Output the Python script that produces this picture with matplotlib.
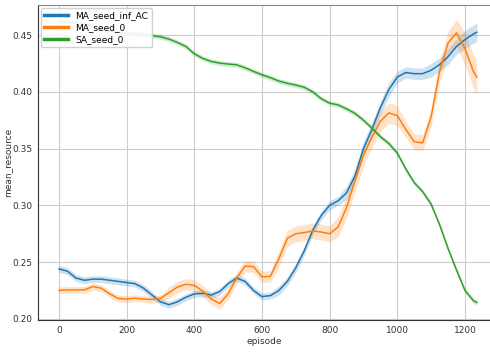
import numpy as np
import matplotlib
matplotlib.use("Agg")
import matplotlib.pyplot as plt

# episodes sampled every 25 + last point
episodes = np.r_[np.arange(0, 1226, 25), 1235]

ma_inf_ac = [0.244, 0.242, 0.236, 0.234, 0.235, 0.235, 0.234, 0.233, 0.232, 0.231,
             0.227, 0.221, 0.215, 0.2125, 0.215, 0.219, 0.222, 0.2225, 0.221, 0.224,
             0.231, 0.236, 0.233, 0.225, 0.2196, 0.2205, 0.225, 0.233, 0.245, 0.260,
             0.278, 0.291, 0.300, 0.304, 0.311, 0.326, 0.350, 0.367, 0.386, 0.402,
             0.413, 0.417, 0.416, 0.416, 0.419, 0.424, 0.431, 0.440, 0.446, 0.451,
             0.4525]
ma_seed0 = [0.225, 0.2255, 0.2255, 0.2255, 0.2285, 0.227, 0.222, 0.218, 0.2175, 0.2182,
            0.2175, 0.217, 0.218, 0.223, 0.228, 0.2305, 0.2295, 0.2245, 0.2175, 0.2135,
            0.222, 0.236, 0.2465, 0.246, 0.237, 0.2375, 0.253, 0.271, 0.275, 0.276,
            0.2775, 0.2765, 0.275, 0.281, 0.298, 0.322, 0.344, 0.360, 0.374, 0.3815,
            0.379, 0.367, 0.356, 0.355, 0.378, 0.418, 0.443, 0.452, 0.438, 0.418,
            0.413]
sa_seed0 = [0.462, 0.4615, 0.461, 0.460, 0.458, 0.455, 0.453, 0.452, 0.4515, 0.451,
            0.4503, 0.4495, 0.4485, 0.4465, 0.4435, 0.440, 0.4335, 0.4295, 0.4268, 0.4253,
            0.4245, 0.4238, 0.4212, 0.418, 0.415, 0.4125, 0.4095, 0.4075, 0.406, 0.404,
            0.400, 0.394, 0.390, 0.3885, 0.385, 0.381, 0.375, 0.368, 0.3605, 0.3545,
            0.346, 0.332, 0.320, 0.312, 0.301, 0.283, 0.262, 0.243, 0.225, 0.216,
            0.2145]

# half width of the shaded band
ma_inf_ac_sd = [0.003] * 26 + [0.004] * 8 + [0.006] * 6 + [0.005] * 4 + [0.006, 0.006, 0.007, 0.007, 0.008, 0.008, 0.008]
ma_seed0_sd = [0.003] * 13 + [0.005] * 13 + [0.007] * 7 + [0.009] * 8 + [0.007] * 3 + [0.008, 0.009, 0.010, 0.012, 0.014, 0.015, 0.015]
sa_seed0_sd = [0.0022] * 51

series = [("MA_seed_inf_AC", ma_inf_ac, ma_inf_ac_sd, "#1f77b4"),
          ("MA_seed_0", ma_seed0, ma_seed0_sd, "#ff7f0e"),
          ("SA_seed_0", sa_seed0, sa_seed0_sd, "#2ca02c")]

fig = plt.figure(figsize=(4.9, 3.58), dpi=100)
ax = fig.add_axes([38 / 490, 38 / 358, 1 - 38 / 490, (320 - 5) / 358])

for name, y, sd, c in series:
    y = np.array(y)
    sd = np.array(sd)
    ax.fill_between(episodes, y - sd, y + sd, color=c, alpha=0.22, lw=0)
    ax.plot(episodes, y, color=c, lw=1.1, label=name)

ax.set_xlim(-62, 1274)
ax.set_ylim(0.199, 0.4765)
ax.set_xticks([0, 200, 400, 600, 800, 1000, 1200])
ax.set_yticks([0.20, 0.25, 0.30, 0.35, 0.40, 0.45])
ax.grid(True, color="#cccccc", lw=0.8)
ax.set_axisbelow(True)
ax.tick_params(length=0, labelsize=6.5, labelcolor="#333333", pad=4)
ax.spines["right"].set_visible(False)
ax.spines["top"].set_color("#888888")
ax.spines["left"].set_color("#333333")
ax.spines["bottom"].set_color("#333333")
ax.set_xlabel("episode", fontsize=6.5, color="#333333", labelpad=2)
ax.set_ylabel("mean_resource", fontsize=6.5, color="#333333", labelpad=0)

leg = ax.legend(loc="upper left", fontsize=6.5, handlelength=2.6, borderaxespad=0.3,
                labelspacing=0.3, framealpha=0.9)
for h in leg.get_lines():
    h.set_linewidth(2.5)

fig.savefig("out.png", dpi=100)
